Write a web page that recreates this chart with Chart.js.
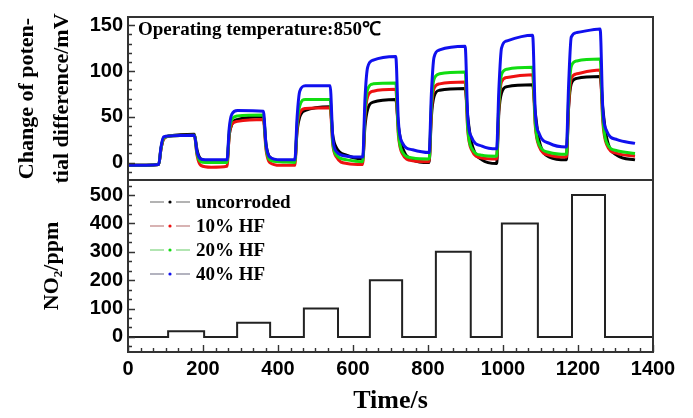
<!DOCTYPE html>
<html><head><meta charset="utf-8">
<script src="https://cdn.jsdelivr.net/npm/chart.js@4.4.1/dist/chart.umd.min.js"></script>
<style>
html,body{margin:0;padding:0;background:#fff;}
#wrap{position:relative;width:693px;height:418px;}
canvas{position:absolute;left:0;top:0;}
</style></head><body>
<div id="wrap"><canvas id="c1" width="693" height="418"></canvas><canvas id="c2" width="693" height="418"></canvas></div>
<script>
// ---- data ----
const times = [0,
  82,88,95,110,177,184,194,222,
  264,270,277,292,361,368,378,406,
  445,451,458,473,539,546,556,584,
  626,632,639,654,714,721,731,759,
  803,809,816,831,899,906,916,944,
  983,989,996,1011,1079,1086,1096,1124,
  1169,1175,1182,1197,1259,1266,1276,1304,
  1352];
const uncorroded = [-3,
  -2,15,26,29,31,14,4,1,
  1,30,42,47,50,20,6,2,
  2,35,50,57,61,30,16,8,
  4,40,58,66,69,40,18,3,
  0,50,72,79,81,50,22,3,
  -1,55,76,83,85,55,25,6,
  3,60,86,92,94,60,28,8,
  3];
const hf10 = [-3,
  -2,15,26,29,30,8,-3,-5,
  -4,30,42,45,47,14,0,-3,
  -3,38,54,59,60,20,6,-1,
  -2,50,72,78,80,30,10,2,
  1,55,81,86,88,35,14,5,
  4,60,88,93,96,40,18,8,
  6,62,92,97,101,45,20,10,
  7];
const hf20 = [-3,
  -2,16,27,29,30,10,1,0,
  0,34,47,51,52,17,3,1,
  0,42,62,69,69,22,8,3,
  1,55,80,86,87,33,12,5,
  4,62,91,97,99,38,16,8,
  7,65,96,102,104,43,20,11,
  9,70,105,111,113,50,22,13,
  10];
const hf40 = [-3,
  -2,17,28,29,30,12,4,3,
  3,38,53,57,56,20,6,3,
  3,50,78,84,84,28,12,7,
  6,70,104,112,116,45,22,14,
  11,75,115,123,127,50,28,18,
  15,80,125,133,139,55,32,21,
  17,85,137,142,146,60,35,25,
  21];
const seriesNames = ['uncorroded','10% HF','20% HF','40% HF'];
const no2Times  = [0,107,203,291,379,469,560,645,731,821,914,997,1093,1184,1272,1400];
const no2Values = [0,20,0,50,0,100,0,200,0,300,0,400,0,500,0,0];
const topTicks  = [0,50,100,150];
const no2Ticks  = [0,100,200,300,400,500];
const timeTicks = [0,200,400,600,800,1000,1200,1400];

// ---- styling ----
const serif = "'Liberation Serif','Times New Roman',serif";
const sans  = "'Liberation Sans',Arial,sans-serif";
const colors = ['#000000','#ee1111','#11dd11','#1010ee'];
const legendLine = ['#9a9a9a','#cc9a9a','#99dd99','#9a9aaa'];
Chart.defaults.color = '#000';
Chart.defaults.animation = false;

function pts(xs, ys){ return xs.map((x,i)=>({x:x, y:ys[i]})); }
const plain = v => String(v);

function framePlugin(cfg){
  return {
    id:'frame'+cfg.name,
    afterDraw(chart){
      const ctx = chart.ctx, a = chart.chartArea;
      ctx.save();
      ctx.strokeStyle = '#333'; ctx.lineWidth = 2;
      ctx.strokeRect(a.left, a.top, a.right-a.left, a.bottom-a.top);
      ctx.lineWidth = 1.4;
      const ys = chart.scales.y;
      ctx.beginPath();
      for (let v = cfg.yMinorStart; v <= ys.max; v += cfg.yMinor) {
        const p = Math.round(ys.getPixelForValue(v)) + 0.5;
        if (p < a.top + 1 || p > a.bottom - 1) continue;
        const major = cfg.yTicks.includes(Math.round(v*1000)/1000);
        ctx.moveTo(a.left, p); ctx.lineTo(a.left + (major ? 7 : 4), p);
      }
      if (cfg.xTicks) {
        const xs = chart.scales.x;
        for (let v = 0; v <= 1400 + 0.01; v += 200/6) {
          const p = Math.round(xs.getPixelForValue(v)) + 0.5;
          const major = Math.abs(v/200 - Math.round(v/200)) < 1e-6;
          ctx.moveTo(p, a.bottom); ctx.lineTo(p, a.bottom - (major ? 7 : 4));
        }
      }
      ctx.stroke();
      if (cfg.note) {
        ctx.fillStyle = '#000';
        ctx.font = "bold 19px " + serif;
        ctx.textBaseline = 'alphabetic';
        ctx.fillText(cfg.note, 138, 35);
      }
      if (cfg.legend) {
        ctx.font = "bold 19px " + serif;
        ctx.textBaseline = 'middle';
        seriesNames.forEach((name, i) => {
          const y = 202 + i*24;
          ctx.strokeStyle = legendLine[i]; ctx.lineWidth = 1.5;
          ctx.beginPath();
          ctx.moveTo(150, y); ctx.lineTo(164, y);
          ctx.moveTo(176, y); ctx.lineTo(190, y);
          ctx.stroke();
          ctx.fillStyle = colors[i];
          ctx.beginPath(); ctx.arc(170, y, 1.6, 0, Math.PI*2); ctx.fill();
          ctx.fillStyle = '#000';
          ctx.fillText(name, 196, y + 1);
        });
      }
      ctx.restore();
    }
  };
}

const tickFont = {family: sans, size: 20, weight: 'bold'};
const titleFont = {family: serif, size: 22, weight: 'bold'};

// ---- top chart ----
const series = [uncorroded, hf10, hf20, hf40];
new Chart(document.getElementById('c1'), {
  type: 'line',
  data: {
    datasets: series.map((s, i) => ({
      label: seriesNames[i],
      data: pts(times, s),
      borderColor: colors[i],
      backgroundColor: colors[i],
      borderWidth: 3,
      pointRadius: 0,
      cubicInterpolationMode: 'monotone',
      order: 3 - i
    }))
  },
  options: {
    responsive: false,
    layout: {padding: {left: 0, right: 40, top: 9, bottom: 238}},
    plugins: {legend: {display: false}, tooltip: {enabled: false}},
    scales: {
      x: {type: 'linear', min: 0, max: 1400, display: false},
      y: {
        type: 'linear', min: -19, max: 159,
        afterBuildTicks: s => { s.ticks = topTicks.map(v => ({value: v})); },
        afterFit: s => { s.width = 128; },
        grid: {display: false, drawTicks: false},
        border: {display: false},
        ticks: {font: tickFont, padding: 5, color: '#000', callback: plain},
        title: {display: true, text: ['Change of poten-', 'tial difference/mV'],
          font: {family: serif, size: 22, weight: 'bold', lineHeight: '35px'},
          padding: {top: 9.5, bottom: 0}, color: '#000'}
      }
    }
  },
  plugins: [framePlugin({name: 'top', yTicks: topTicks, yMinor: 10, yMinorStart: -10,
    note: 'Operating temperature:850\u2103'})]
});

// ---- bottom chart ----
new Chart(document.getElementById('c2'), {
  type: 'line',
  data: {
    datasets: [{
      label: 'NO2',
      data: pts(no2Times, no2Values),
      borderColor: '#222',
      borderWidth: 2,
      pointRadius: 0,
      stepped: true
    }]
  },
  options: {
    responsive: false,
    layout: {padding: {left: 0, right: 40, top: 180, bottom: 0}},
    plugins: {legend: {display: false}, tooltip: {enabled: false}},
    scales: {
      x: {
        type: 'linear', min: 0, max: 1400,
        afterBuildTicks: s => { s.ticks = timeTicks.map(v => ({value: v})); },
        afterFit: s => { s.height = 66; },
        grid: {display: false, drawTicks: false},
        border: {display: false},
        ticks: {font: tickFont, padding: 5, color: '#000', maxRotation: 0, autoSkip: false, callback: plain},
        title: {display: true, text: 'Time/s',
          font: {family: serif, size: 26, weight: 'bold'}, padding: {top: 0, bottom: 1}, color: '#000'}
      },
      y: {
        type: 'linear', min: -53, max: 553,
        afterBuildTicks: s => { s.ticks = no2Ticks.map(v => ({value: v})); },
        afterFit: s => { s.width = 128; },
        grid: {display: false, drawTicks: false},
        border: {display: false},
        ticks: {font: tickFont, padding: 5, color: '#000', callback: plain},
        title: {display: true, text: 'NO\u2082/ppm', font: titleFont,
          padding: {top: 38.8, bottom: 0}, color: '#000'}
      }
    }
  },
  plugins: [framePlugin({name: 'bot', yTicks: no2Ticks, yMinor: 100/3, yMinorStart: -100/3,
    xTicks: true, legend: true})]
});
</script>
</body></html>
